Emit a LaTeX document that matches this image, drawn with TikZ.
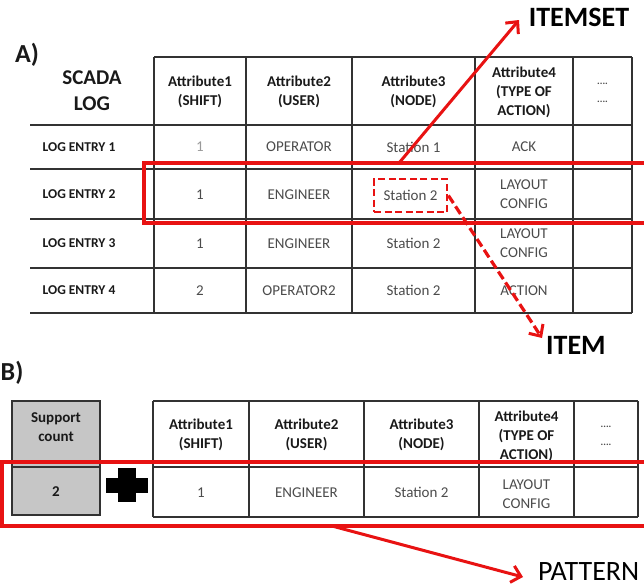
\documentclass[tikz,border=0pt]{standalone}
\usepackage{fontspec}
\setmainfont{Carlito}
\usetikzlibrary{arrows.meta}
\definecolor{hl}{RGB}{232,18,18}
\definecolor{rule}{RGB}{50,50,50}
\definecolor{bodytxt}{RGB}{75,75,75}
\definecolor{boldtxt}{RGB}{25,25,25}
\definecolor{countfill}{RGB}{198,198,198}

\begin{document}
\begin{tikzpicture}[x=1pt,y=-1pt,
  grid/.style={draw=rule, line width=1.8pt},
  hdr/.style={font=\fontsize{15}{19}\selectfont\bfseries, text=boldtxt, align=center, inner sep=0pt},
  cell/.style={font=\fontsize{15}{19}\selectfont, text=bodytxt, align=center, inner sep=0pt},
  entry/.style={font=\fontsize{13.5}{16}\selectfont\bfseries, text=boldtxt, inner sep=0pt},
  logtitle/.style={font=\fontsize{21}{26}\selectfont\bfseries, text=boldtxt, align=center, inner sep=0pt},
  dotcell/.style={font=\fontsize{10}{18}\selectfont\bfseries, text=bodytxt, align=center, inner sep=0pt},
  panel/.style={font=\fontsize{26}{28}\selectfont\bfseries, text=boldtxt, inner sep=0pt},
  callout/.style={font=\fontsize{28}{30}\selectfont\bfseries, text=black, inner sep=0pt},
  calloutlight/.style={font=\fontsize{28}{30}\selectfont, text=black, inner sep=0pt},
  hlbox/.style={draw=hl, line width=3.5pt},
  itembox/.style={draw=hl, line width=2.8pt, dash pattern=on 7pt off 3.5pt,
    minimum width=73pt, minimum height=33pt},
  hlarrow/.style={draw=hl, line width=3pt,
    -{Straight Barb[length=9pt,width=17pt,line width=3pt]}},
  hldashed/.style={draw=hl, line width=3.2pt, dash pattern=on 9pt off 4pt,
    -{Straight Barb[length=9pt,width=17pt,line width=3pt]}},
  countbox/.style={fill=countfill, draw=rule, line width=1.8pt},
]
\useasboundingbox (0,0) rectangle (644,587);
\clip (0,0) rectangle (644,587);

% ---------------- Panel A: SCADA log table ----------------
\node[panel, anchor=west] (labA) at (15,55) {A)};

\draw[grid] (154,57) -- (632,57);
\foreach \y in {125,169,219,268,313} \draw[grid] (30,\y) -- (632,\y);
\foreach \x in {154,246,352,475,573,632} \draw[grid] (\x,57) -- (\x,313);

\node[logtitle] (scada) at (92,91) {SCADA\\LOG};
\node[hdr] (a-h1) at (200,92) {Attribute1\\(SHIFT)};
\node[hdr] (a-h2) at (299,92) {Attribute2\\(USER)};
\node[hdr] (a-h3) at (413.5,92) {Attribute3\\(NODE)};
\node[hdr] (a-h4) at (524,92) {Attribute4\\(TYPE OF\\ACTION)};
\node[dotcell] (a-h5) at (602.5,93) {....\\....};

\node[entry] (a-e1) at (79,147) {LOG ENTRY 1};
\node[entry] (a-e2) at (79,194.5) {LOG ENTRY 2};
\node[entry] (a-e3) at (79,243.5) {LOG ENTRY 3};
\node[entry] (a-e4) at (79,290.5) {LOG ENTRY 4};

% row 1
\node[cell, text=black!40] (a-r1c1) at (200,147) {1};
\node[cell] (a-r1c2) at (299,147) {OPERATOR};
\node[cell] (a-r1c3) at (413.5,147) {Station 1};
\node[cell] (a-r1c4) at (524,147) {ACK};
% row 2
\node[cell] (a-r2c1) at (200,194.5) {1};
\node[cell] (a-r2c2) at (299,194.5) {ENGINEER};
\node[cell, itembox] (item) at (410.5,195.5) {Station 2};
\node[cell] (a-r2c4) at (524,194.5) {LAYOUT\\CONFIG};
% row 3
\node[cell] (a-r3c1) at (200,243.5) {1};
\node[cell] (a-r3c2) at (299,243.5) {ENGINEER};
\node[cell] (a-r3c3) at (413.5,243.5) {Station 2};
\node[cell] (a-r3c4) at (524,243.5) {LAYOUT\\CONFIG};
% row 4
\node[cell] (a-r4c1) at (200,290.5) {2};
\node[cell] (a-r4c2) at (299,290.5) {OPERATOR2};
\node[cell] (a-r4c3) at (413.5,290.5) {Station 2};
\node[cell] (a-r4c4) at (524,290.5) {ACTION};

% itemset highlight and callouts
\draw[hlbox] (144,163) rectangle (660,223);
\node[callout] (itemset) at (579,17) {ITEMSET};
\coordinate (isfoot) at (399,163);
\coordinate (istip) at (519,20);
\draw[hlarrow] (isfoot) -- (istip);

\node[callout, anchor=west] (itemlbl) at (546,345) {ITEM};
\coordinate (itemtip) at (542,338);
\draw[hldashed] (item.east) -- (itemtip);

% ---------------- Panel B: pattern with support count ----------------
\node[panel, anchor=west] (labB) at (0.5,373) {B)};

\draw[countbox] (12,401) rectangle (100,515);
\draw[grid] (12,467) -- (100,467);
\node[hdr] (b-sc) at (56,427) {Support\\count};
\node[hdr] (b-cnt) at (56,492) {2};

% plus sign
\fill[black] (106,477.5) rectangle (148,492.5);
\fill[black] (118,468) rectangle (136,502);

\foreach \y in {401,467,517} \draw[grid] (153,\y) -- (638,\y);
\foreach \x in {153,249,364,479,574,638} \draw[grid] (\x,401) -- (\x,517);

\node[hdr] (b-h1) at (201,435) {Attribute1\\(SHIFT)};
\node[hdr] (b-h2) at (306.5,435) {Attribute2\\(USER)};
\node[hdr] (b-h3) at (421.5,435) {Attribute3\\(NODE)};
\node[hdr] (b-h4) at (526.5,436) {Attribute4\\(TYPE OF\\ACTION)};
\node[dotcell] (b-h5) at (606,436) {....\\....};

\node[cell] (b-c1) at (201,492.5) {1};
\node[cell] (b-c2) at (306.5,492.5) {ENGINEER};
\node[cell] (b-c3) at (421.5,492.5) {Station 2};
\node[cell] (b-c4) at (526.5,494) {LAYOUT\\CONFIG};

\draw[hlbox] (2,462) rectangle (660,526);
\node[calloutlight, anchor=west] (pattern) at (538,572) {PATTERN};
\coordinate (patfoot) at (332,526);
\coordinate (pattip) at (523,577);
\draw[hlarrow] (patfoot) -- (pattip);
\end{tikzpicture}
\end{document}
